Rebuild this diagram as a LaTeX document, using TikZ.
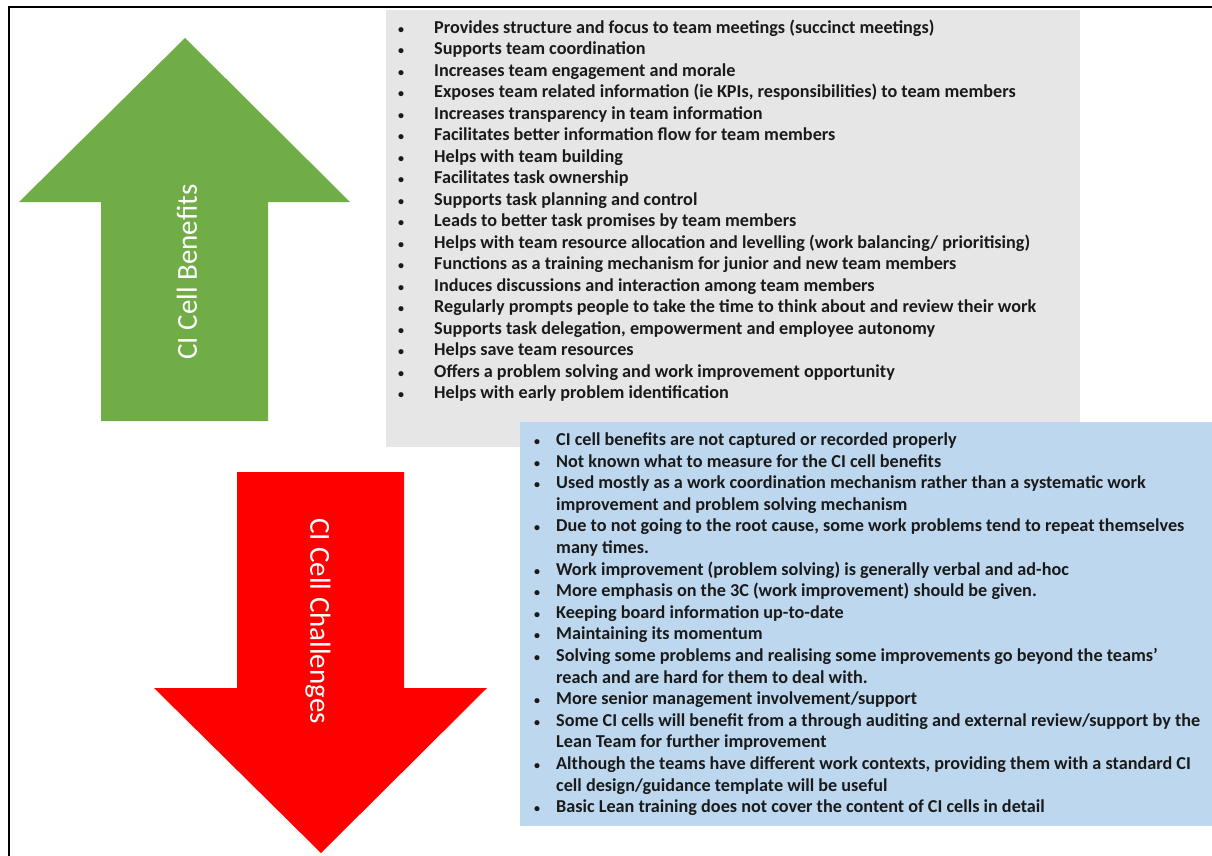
\documentclass[tikz,border=0pt]{standalone}
\usepackage{fontspec}
\setmainfont{Carlito}
\usepackage{array}
\definecolor{ggreen}{HTML}{70AD47}
\definecolor{rred}{HTML}{FF0000}
\definecolor{graybox}{HTML}{E7E6E6}
\definecolor{bluebox}{HTML}{BDD7EE}
\definecolor{txt}{HTML}{1A1A1A}
\newcommand\gbul{{\fontsize{12}{12}\selectfont\textbullet}}
\tikzset{
  listtext/.style={anchor=base west, inner sep=0pt, text=txt, font=\fontsize{18.2}{21.5}\selectfont\bfseries},
  bluetext/.style={listtext, font=\fontsize{18.2}{21.6}\selectfont\bfseries},
  arrowlabel/.style={text=white, font=\fontsize{29}{29}\selectfont, inner sep=0pt},
}
\begin{document}
\begin{tikzpicture}[x=1pt,y=-1pt]
\useasboundingbox (0,0) rectangle (1212,856);
\fill[white] (0,0) rectangle (1212,856);
% frame
\draw[line width=2pt] (8.5,856) -- (8.5,7.5) -- (1212,7.5);
% panels
\fill[graybox] (386,10) rectangle (1080,447);
\fill[bluebox] (520,422) rectangle (1212,826);
% arrows
\fill[ggreen] (185,38) -- (350,202) -- (268,202) -- (268,421) -- (101,421) -- (101,202) -- (19,202) -- cycle;
\fill[rred] (237,472) -- (404,472) -- (404,688) -- (487,688) -- (321,853) -- (154,688) -- (237,688) -- cycle;
\node[arrowlabel, rotate=90] (benefits) at (187,272) {CI Cell Benefits};
\node[arrowlabel, rotate=-90] (challenges) at (318,621) {CI Cell Challenges};
% benefits list
\node[listtext] (benefitlist) at (398,33.5) {\begin{tabular}[t]{@{}p{36pt}@{}l@{}}
\gbul & Provides structure and focus to team meetings (succinct meetings)\\
\gbul & Supports team coordination\\
\gbul & Increases team engagement and morale\\
\gbul & Exposes team related information (ie KPIs, responsibilities) to team members\\
\gbul & Increases transparency in team information\\
\gbul & Facilitates better information flow for team members\\
\gbul & Helps with team building\\
\gbul & Facilitates task ownership\\
\gbul & Supports task planning and control\\
\gbul & Leads to better task promises by team members\\
\gbul & Helps with team resource allocation and levelling (work balancing/ prioritising)\\
\gbul & Functions as a training mechanism for junior and new team members\\
\gbul & Induces discussions and interaction among team members\\
\gbul & Regularly prompts people to take the time to think about and review their work\\
\gbul & Supports task delegation, empowerment and employee autonomy\\
\gbul & Helps save team resources\\
\gbul & Offers a problem solving and work improvement opportunity\\
\gbul & Helps with early problem identification
\end{tabular}};
% challenges list
\node[bluetext] (challengelist) at (534,445.5) {\begin{tabular}[t]{@{}p{22pt}@{}l@{}}
\gbul & CI cell benefits are not captured or recorded properly\\
\gbul & Not known what to measure for the CI cell benefits\\
\gbul & Used mostly as a work coordination mechanism rather than a systematic work\\
 & improvement and problem solving mechanism\\
\gbul & Due to not going to the root cause, some work problems tend to repeat themselves\\
 & many times.\\
\gbul & Work improvement (problem solving) is generally verbal and ad-hoc\\
\gbul & More emphasis on the 3C (work improvement) should be given.\\
\gbul & Keeping board information up-to-date\\
\gbul & Maintaining its momentum\\
\gbul & Solving some problems and realising some improvements go beyond the teams'\\
 & reach and are hard for them to deal with.\\
\gbul & More senior management involvement/support\\
\gbul & Some CI cells will benefit from a through auditing and external review/support by the\\
 & Lean Team for further improvement\\
\gbul & Although the teams have different work contexts, providing them with a standard CI\\
 & cell design/guidance template will be useful\\
\gbul & Basic Lean training does not cover the content of CI cells in detail
\end{tabular}};
\end{tikzpicture}
\end{document}
